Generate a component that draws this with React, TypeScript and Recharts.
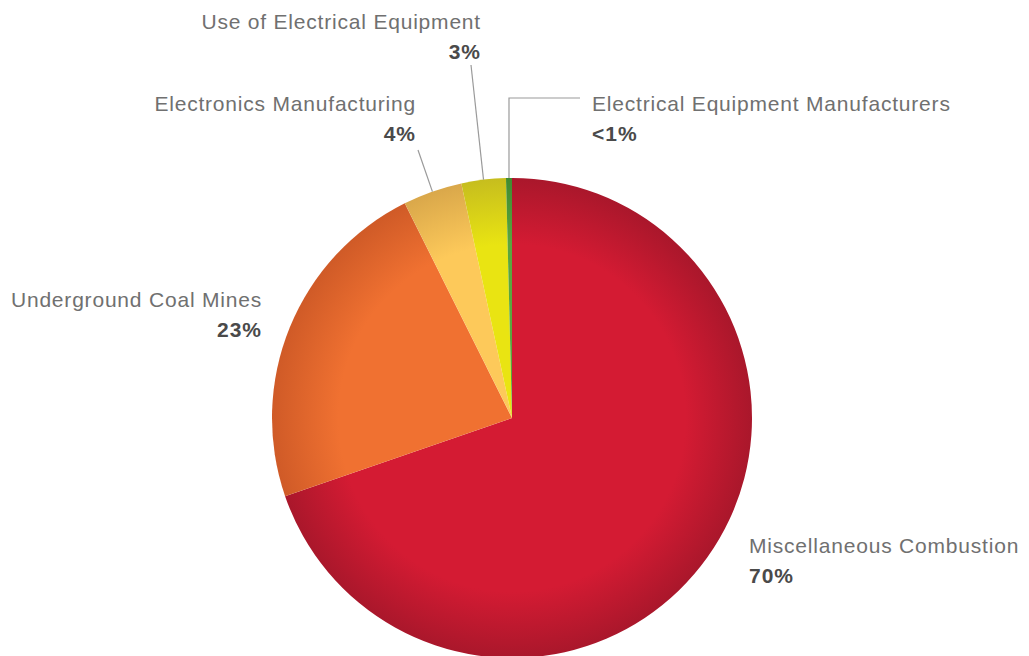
import { PieChart, Pie, Cell } from "recharts";

const sources = [
  "Miscellaneous Combustion",
  "Underground Coal Mines",
  "Electronics Manufacturing",
  "Use of Electrical Equipment",
  "Electrical Equipment Manufacturers",
];
const shares = [70, 23, 4, 3, 0.4];
const shareLabels = ["70%", "23%", "4%", "3%", "<1%"];

// base colour and dark rim
const sliceColors = [
  ["#d41b33", "#a9172b"],
  ["#f07131", "#cf5a27"],
  ["#fdc95a", "#d9a74a"],
  ["#e9e412", "#c6bd1e"],
  ["#5aa63e", "#3f8a30"],
];

// where each label sits, and optional elbow points of its leader line
type Layout = { x: number; y: number; anchor: "start" | "end"; leader?: number[][] };
const labelLayout: Layout[] = [
  { x: 749, y: 553, anchor: "start" },
  { x: 262, y: 307, anchor: "end" },
  { x: 416, y: 111, anchor: "end", leader: [[418, 150]] },
  { x: 481, y: 29, anchor: "end", leader: [[471, 65]] },
  { x: 592, y: 111, anchor: "start", leader: [[580, 98], [510, 98]] },
];

const data = sources.map((name, i) => ({ name, value: shares[i], pct: shareLabels[i] }));

const RAD = Math.PI / 180;
const FONT = "'Liberation Sans', Arial, sans-serif";

function renderLabel(props: any) {
  const { cx, cy, midAngle, outerRadius, index } = props;
  const lay = labelLayout[index];
  const px = cx + outerRadius * Math.cos(-midAngle * RAD);
  const py = cy + outerRadius * Math.sin(-midAngle * RAD);
  let path = "";
  if (lay.leader) {
    const pts = [...lay.leader];
    if (index === 4) pts[pts.length - 1] = [px, pts[pts.length - 1][1]];
    path = "M" + pts.map((p) => p.join(",")).join("L") + `L${px},${py}`;
  }
  return (
    <g key={`lbl-${index}`}>
      {path && <path d={path} stroke="#9a9a9a" strokeWidth={1.2} fill="none" />}
      <text x={lay.x} y={lay.y} textAnchor={lay.anchor} fontFamily={FONT} fontSize={21} letterSpacing={0.8} fill="#707070">
        {data[index].name}
      </text>
      <text x={lay.x} y={lay.y + 30} textAnchor={lay.anchor} fontFamily={FONT} fontSize={21} letterSpacing={1} fontWeight="bold" fill="#4a4a4a">
        {data[index].pct}
      </text>
    </g>
  );
}

export default function App() {
  return (
    <div style={{ position: "fixed", left: 0, top: 0, width: 1029, height: 656, background: "#fff" }}>
      <PieChart width={1029} height={656} margin={{ top: 0, right: 0, bottom: 0, left: 0 }}>
        <defs>
          {sliceColors.map((c, i) => (
            <radialGradient key={i} id={`g${i}`} gradientUnits="userSpaceOnUse" cx={512} cy={418} r={241}>
              <stop offset="0%" stopColor={c[0]} />
              <stop offset="72%" stopColor={c[0]} />
              <stop offset="100%" stopColor={c[1]} />
            </radialGradient>
          ))}
        </defs>
        <Pie
          data={data}
          dataKey="value"
          nameKey="name"
          cx={512}
          cy={418}
          outerRadius={240}
          startAngle={90}
          endAngle={-270}
          stroke="none"
          label={renderLabel}
          labelLine={false}
          isAnimationActive={false}
        >
          {data.map((d, i) => (
            <Cell key={d.name} fill={`url(#g${i})`} />
          ))}
        </Pie>
      </PieChart>
    </div>
  );
}
